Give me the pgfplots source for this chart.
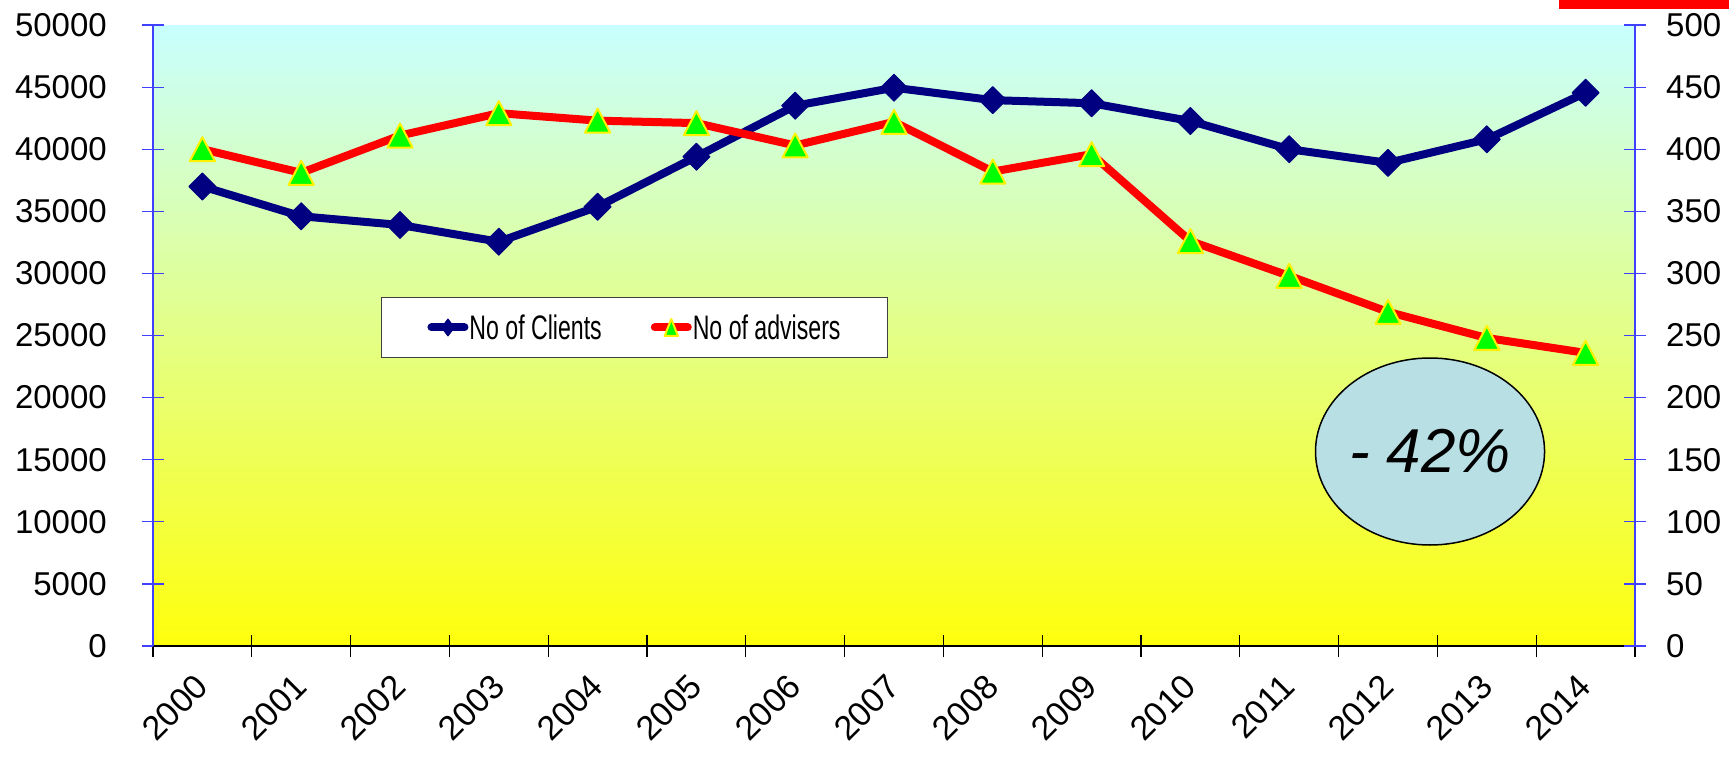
\documentclass[border=0pt]{standalone}
\usepackage{fontspec}
\setmainfont{Liberation Sans}
\usepackage{graphicx}
\usepackage{pgfplots}
\pgfplotsset{compat=1.18}
\usetikzlibrary{shapes.geometric}
\usepackage{pgfplotstable}
\definecolor{navyc}{RGB}{0,0,128}
\definecolor{axblue}{RGB}{64,64,255}
\definecolor{ellfill}{RGB}{184,224,228}
\definecolor{bgtop}{RGB}{200,255,255}
\definecolor{bgmid}{RGB}{228,255,188}
\definecolor{bgbot}{RGB}{255,255,12}
\definecolor{legdraw}{RGB}{64,64,64}

\pgfdeclareplotmark{xldia}{%
  \pgfpathmoveto{\pgfqpoint{0pt}{\pgfplotmarksize}}%
  \pgfpathlineto{\pgfqpoint{\pgfplotmarksize}{0pt}}%
  \pgfpathlineto{\pgfqpoint{0pt}{-\pgfplotmarksize}}%
  \pgfpathlineto{\pgfqpoint{-\pgfplotmarksize}{0pt}}%
  \pgfpathclose
  \pgfusepathqfillstroke}
\pgfdeclareplotmark{xltri}{%
  \pgfpathmoveto{\pgfqpoint{0pt}{\pgfplotmarksize}}%
  \pgfpathlineto{\pgfqpoint{1.05\pgfplotmarksize}{-\pgfplotmarksize}}%
  \pgfpathlineto{\pgfqpoint{-1.05\pgfplotmarksize}{-\pgfplotmarksize}}%
  \pgfpathclose
  \pgfusepathqfillstroke}

\pgfplotsset{
  clientstyle/.style={navyc, line width=8pt, line join=round, mark=xldia, mark size=13.5pt,
    mark options={line width=1pt, fill=navyc, draw=navyc, solid}},
  advstyle/.style={red, line width=8pt, line join=round, mark=xltri, mark size=12pt,
    mark options={line width=2pt, fill=green, draw=yellow, solid}},
}

\pgfplotstableread{
x clients advisers
0 37000 400
1 34600 381
2 33900 411
3 32550 429
4 35370 423
5 39400 421
6 43500 403
7 44950 422
8 43950 382
9 43700 396
10 42270 326
11 40000 298
12 38900 269
13 40800 248
14 44550 236
}\datatable

\begin{document}
\begin{tikzpicture}
\useasboundingbox (0,0) rectangle (1729pt,764pt);
\fill[red] (1559pt,755pt) rectangle (1729pt,764pt);
\begin{axis}[
  at={(153pt,118pt)}, anchor=south west,
  scale only axis, width=1482pt, height=621pt,
  xmin=-0.5, xmax=14.5, ymin=0, ymax=50000,
  axis x line*=bottom, axis y line*=left,
  x axis line style={black, line width=1.5pt, -},
  y axis line style={axblue, line width=1.5pt, -},
  scaled y ticks=false, scaled x ticks=false,
  xtick={0,...,14},
  xticklabels={2000,2001,2002,2003,2004,2005,2006,2007,2008,2009,2010,2011,2012,2013,2014},
  major x tick style={draw=none},
  minor xtick={-0.5,0.5,...,14.5},
  minor x tick style={black, line width=1.2pt},
  minor tick length=22pt,
  ytick={0,5000,...,50000},
  yticklabels={0,5000,10000,15000,20000,25000,30000,35000,40000,45000,50000},
  ytick style={axblue, line width=1.2pt},
  major tick length=22pt, tick align=center,
  xticklabel style={font=\fontsize{34}{40}\selectfont, rotate=45, anchor=north east, inner sep=0pt, xshift=-17pt, yshift=-4pt},
  yticklabel style={font=\fontsize{33}{38}\selectfont, anchor=east, inner sep=0pt, xshift=-35pt},
  axis background/.style={shade, top color=bgtop, middle color=bgmid, bottom color=bgbot},
  clip=false,
]
\addplot[clientstyle] table[x=x, y=clients]{\datatable};
\end{axis}
\begin{axis}[
  at={(153pt,118pt)}, anchor=south west,
  scale only axis, width=1482pt, height=621pt,
  xmin=-0.5, xmax=14.5, ymin=0, ymax=500,
  axis x line=none, axis y line*=right,
  y axis line style={axblue, line width=1.5pt, -},
  scaled y ticks=false,
  ytick={0,50,...,500},
  yticklabels={0,50,100,150,200,250,300,350,400,450,500},
  ytick style={axblue, line width=1.2pt},
  major tick length=22pt, tick align=center,
  yticklabel style={font=\fontsize{33}{38}\selectfont, anchor=west, inner sep=0pt, xshift=20pt},
  legend columns=2,
  legend cell align=left,
  legend style={at={(0.3249,0.5129)}, anchor=center, draw=legdraw, line width=1.5pt, fill=white,
    inner xsep=46pt, inner ysep=15pt, font=\fontsize{34}{38}\selectfont,
    nodes={inner xsep=1pt, inner ysep=2pt},
    /tikz/every even column/.append style={column sep=48pt}},
  legend image code/.code={%
    \draw[mark repeat=2, mark phase=2, #1, mark size=8.5pt, line cap=round,
      every mark/.append style={xscale=0.75}]
      plot coordinates {(0pt,0pt) (16.5pt,0pt) (33pt,0pt)};},
  clip=false,
]
\addlegendimage{clientstyle}
\addlegendentry{\scalebox{0.68}[1]{No of Clients}}
\addplot[advstyle] table[x=x, y=advisers]{\datatable};
\addlegendentry{\scalebox{0.68}[1]{No of advisers}}
\node[ellipse, draw=black, fill=ellfill, line width=1.5pt, minimum width=227pt, minimum height=187pt, inner sep=0pt]
  at (rel axis cs:0.8617,0.3132) {\fontsize{62}{70}\selectfont\itshape - 42\%};
\end{axis}
\end{tikzpicture}
\end{document}
